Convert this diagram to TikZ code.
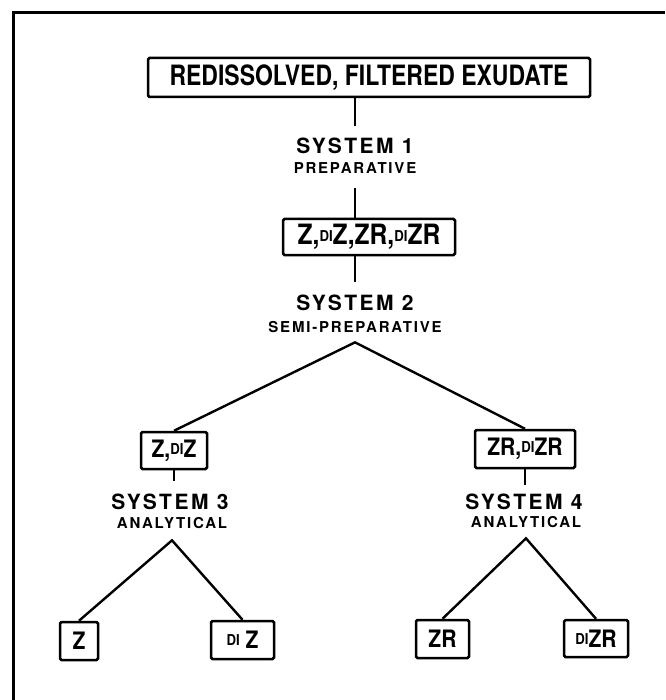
\documentclass[tikz,border=0pt]{standalone}
\usepackage{fontspec}
\setmainfont{TeX Gyre Heros}
\newfontfamily\estrecha[FakeStretch=0.88]{TeX Gyre Heros}
\newfontfamily\compacta[FakeStretch=0.82]{TeX Gyre Heros}
\newfontfamily\espaciada[LetterSpace=12]{TeX Gyre Heros}
\newcommand{\prefdi}{\raisebox{3pt}{\fontsize{15}{15}\selectfont DI}}

\begin{document}
\begin{tikzpicture}[x=1pt, y=-1pt,
        caja/.style={draw, line width=2.5pt, rounded corners=1.5pt, inner sep=0pt,
        font=\estrecha\bfseries\fontsize{24}{24}\selectfont},
        rotulo/.style={inner xsep=0pt, font=\espaciada\bfseries\fontsize{21}{21}\selectfont},
        subrotulo/.style={inner xsep=0pt, font=\espaciada\bfseries\fontsize{15}{15}\selectfont},
        linea/.style={line width=2.4pt}
    ]
        \useasboundingbox (0,0) rectangle (665,700);
        \draw[line width=3pt] (13,700) -- (13,13) -- (665,13);

        \node[caja, minimum width=442pt, minimum height=39pt,
        font=\compacta\bfseries\fontsize{28}{28}\selectfont] (exudado) at (369,77.5)
        {REDISSOLVED, FILTERED EXUDATE};
        \node[rotulo, inner ysep=11.5pt] (sis1) at (355,146) {SYSTEM 1};
        \node[subrotulo, inner ysep=14.5pt] (prep1) at (355,168) {PREPARATIVE};
        \node[caja, minimum width=172pt, minimum height=36pt,
        font=\estrecha\bfseries\fontsize{28}{28}\selectfont] (mezcla) at (369,237)
        {Z,\prefdi Z,ZR,\prefdi ZR};
        \node[rotulo, inner ysep=12.5pt] (sis2) at (355,303) {SYSTEM 2};
        \node[subrotulo, inner ysep=9.5pt] (prep2) at (355,327) {SEMI-PREPARATIVE};

        \node[caja, minimum width=66pt, minimum height=37pt] (zdz) at (174,450.5) {Z,\prefdi Z};
        \node[rotulo, inner ysep=12.5pt] (sis3) at (170,502) {SYSTEM 3};
        \node[subrotulo, inner ysep=11.5pt] (ana3) at (172,523) {ANALYTICAL};
        \node[caja, minimum width=100pt, minimum height=38pt] (zrdzr) at (525,449) {ZR,\prefdi ZR};
        \node[rotulo, inner ysep=8.5pt] (sis4) at (524,502) {SYSTEM 4};
        \node[subrotulo, inner ysep=10.5pt] (ana4) at (526,522) {ANALYTICAL};

        \node[caja, minimum width=38pt, minimum height=38pt] (z) at (79,641) {Z};
        \node[caja, minimum width=63pt, minimum height=38pt] (dz) at (242.5,640) {\prefdi\ Z};
        \node[caja, minimum width=53pt, minimum height=38pt] (zr) at (442.5,639) {ZR};
        \node[caja, minimum width=64pt, minimum height=37pt] (dzr) at (596,638.5) {\prefdi ZR};

        \draw[linea] (exudado.south -| sis1) -- (sis1);
        \draw[linea] (prep1) -- (prep1 |- mezcla.north);
        \draw[linea] (mezcla.south -| sis2) -- (sis2);
        \draw[linea] (zdz.north) -- (prep2.south) -- (zrdzr.north);
        \draw[linea] (zdz) -- (zdz |- sis3.north);
        \draw[linea] (z.north) -- (ana3.south) -- (dz.north);
        \draw[linea] (zrdzr) -- (zrdzr |- sis4.north);
        \draw[linea] (zr.north) -- (ana4.south) -- (dzr.north);
    \end{tikzpicture}
\end{document}
